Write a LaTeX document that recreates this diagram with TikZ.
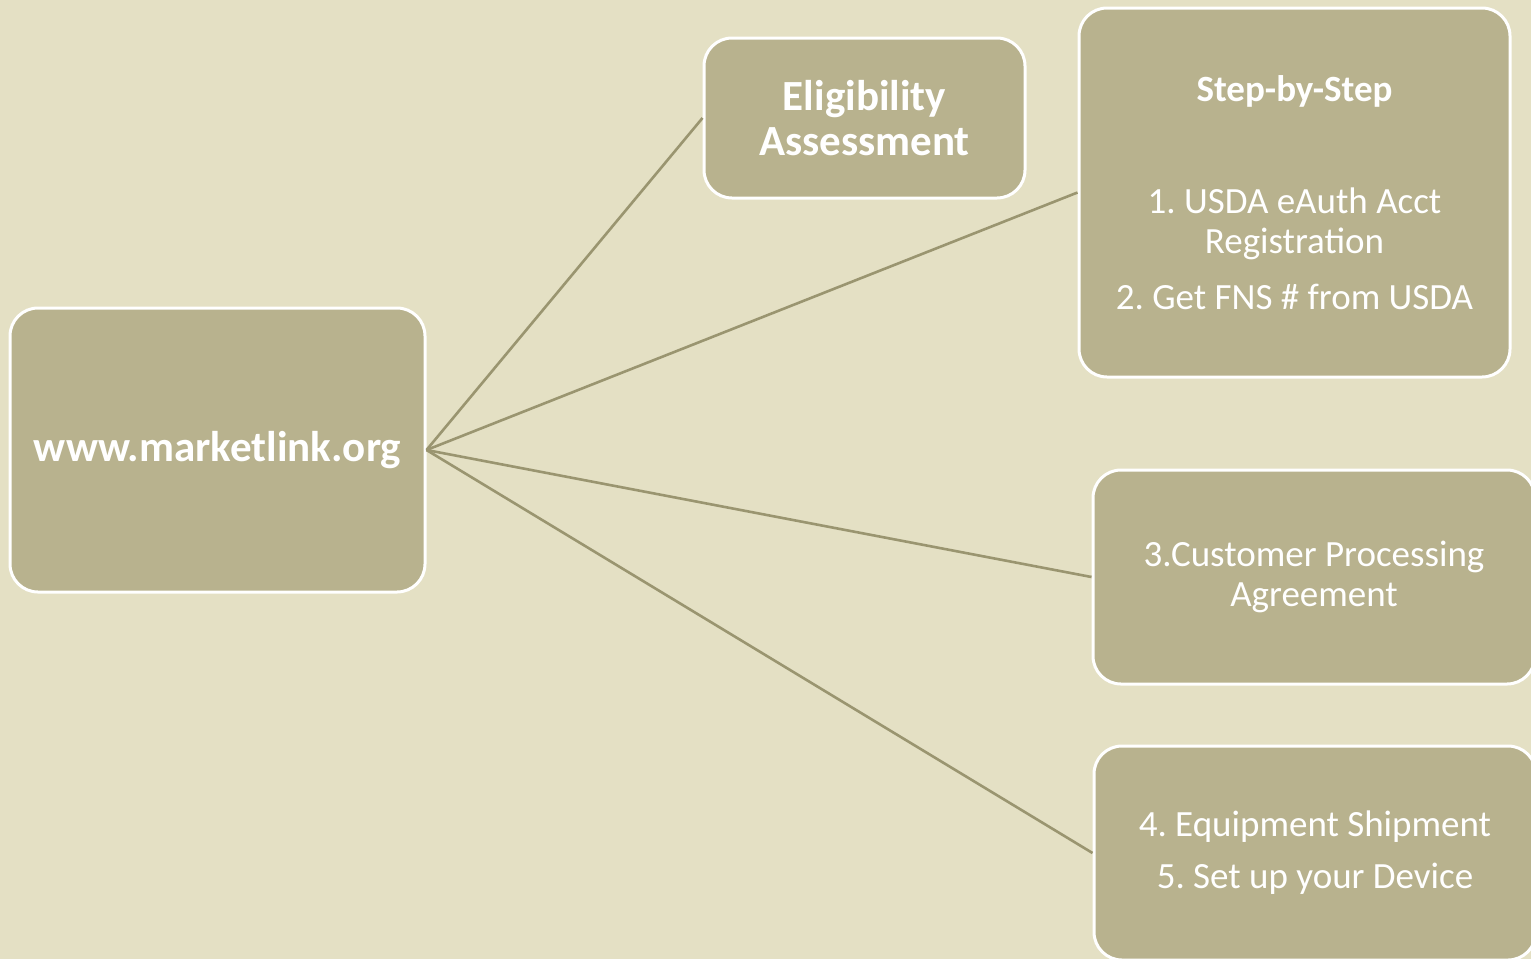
\documentclass[tikz,border=0pt]{standalone}
\usepackage{fontspec}
\setmainfont{Carlito}
\frenchspacing
\usepackage{tikz}
\usetikzlibrary{positioning}

\definecolor{paper}{HTML}{E4E0C4}
\definecolor{boxfill}{HTML}{B8B28E}
\definecolor{linkline}{HTML}{9A9570}

\begin{document}
\begin{tikzpicture}[
          x=1pt, y=-1pt,
          stage/.style={draw=white, line width=3pt, fill=boxfill, rounded corners=28pt,
            text=white, align=center, inner sep=0pt},
          link/.style={draw=linkline, line width=2.6pt}
        ]
  % page
  \fill[paper] (0,0) rectangle (1531,959);
  \useasboundingbox (0,0) rectangle (1531,959);
  \clip (0,0) rectangle (1531,959);

  % site and the four steps
  \node[stage, minimum width=415pt, minimum height=284pt,
        font=\fontsize{43}{46}\selectfont\bfseries] (site) at (217.5,450)
        {www.marketlink.org};
  \node[stage, minimum width=321pt, minimum height=160pt,
        font=\fontsize{43}{45}\selectfont\bfseries] (elig) at (864.5,118)
        {Eligibility\\Assessment};
  \node[stage, minimum width=431pt, minimum height=369pt,
        font=\fontsize{37}{40}\selectfont] (steps) at (1294.5,192.5)
        {\textbf{Step-by-Step}\\[72pt]
         1. USDA eAuth Acct\\Registration\\[16pt]2. Get FNS \# from USDA};
  \node[stage, minimum width=442pt, minimum height=214pt,
        font=\fontsize{37}{40}\selectfont] (cpa) at (1314,577)
        {3.Customer Processing\\Agreement};
  \node[stage, minimum width=442pt, minimum height=214pt,
        font=\fontsize{37}{40}\selectfont] (ship) at (1315,853)
        {4. Equipment Shipment\\[12pt]5. Set up your Device};

  % links
  \draw[link] (site.east) -- (elig.west);
  \draw[link] (site.east) -- (steps.west);
  \draw[link] (site.east) -- (cpa.west);
  \draw[link] (site.east) -- (ship.west);
\end{tikzpicture}
\end{document}
